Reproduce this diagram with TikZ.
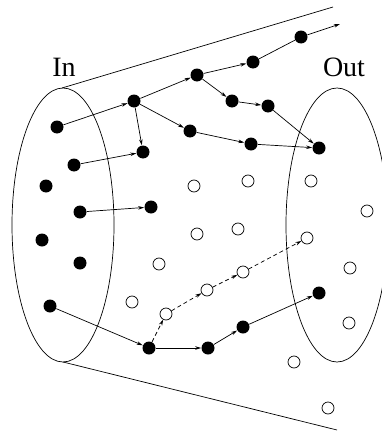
\documentclass[tikz,border=0pt]{standalone}
\usepackage{fontspec}
\setmainfont{Liberation Serif}
\usepackage{tikz}
\usetikzlibrary{arrows.meta, positioning}

\tikzset{
  dot/.style={circle, fill=black, inner sep=0pt, minimum size=13pt},
  hole/.style={circle, draw, line width=0.7pt, fill=white, inner sep=0pt, minimum size=12pt},
  flow/.style={line width=0.7pt, -{Stealth[length=6pt, width=3.5pt]}},
  trial/.style={flow, dash pattern=on 4pt off 3pt}
}

\begin{document}
\begin{tikzpicture}[x=1pt, y=-1pt, line width=0.7pt]
    \useasboundingbox (0,0) rectangle (381,431);
    % the two sets
    \draw (63,225) ellipse [x radius=51, y radius=137];
    \draw (337,225) ellipse [x radius=51, y radius=137];
    \coordinate (inTop) at (62,88);
    \coordinate (inBot) at (63,362);
    \coordinate (farTop) at (333,7);
    \coordinate (farBot) at (337,430);
    \draw (inTop) -- (farTop);
    \draw (inBot) -- (farBot);
    \node (In) at (64,67) {\fontsize{28}{30}\selectfont In};
    \node (Out) at (344,67) {\fontsize{28}{30}\selectfont Out};

    % points of In
    \node[dot] (i1) at (57,127) {};
    \node[dot] (i2) at (74,165) {};
    \node[dot] (i3) at (46,186) {};
    \node[dot] (i4) at (80,212) {};
    \node[dot] (i5) at (42,240) {};
    \node[dot] (i6) at (80,263) {};
    \node[dot] (i7) at (50,306) {};

    % visited points
    \node[dot] (b) at (134,101) {};
    \node[dot] (c) at (143,152) {};
    \node[dot] (d) at (151,207) {};
    \node[dot] (e) at (197,75) {};
    \node[dot] (f) at (190,131) {};
    \node[dot] (g) at (253,62) {};
    \node[dot] (h) at (301,37) {};
    \node[dot] (k) at (232,101) {};
    \node[dot] (j) at (268,106) {};
    \node[dot] (l) at (251,144) {};
    \node[dot] (m) at (319,148) {};
    \node[dot] (n) at (149,348) {};
    \node[dot] (p) at (208,348) {};
    \node[dot] (q) at (243,327) {};
    \node[dot] (r) at (319,293) {};
    \coordinate (away) at (340,24);

    % untouched points
    \node[hole] (o1) at (194,186) {};
    \node[hole] (o2) at (248,181) {};
    \node[hole] (o3) at (311,181) {};
    \node[hole] (o4) at (367,211) {};
    \node[hole] (o5) at (197,234) {};
    \node[hole] (o6) at (238,229) {};
    \node[hole] (o7) at (307,238) {};
    \node[hole] (o8) at (159,264) {};
    \node[hole] (o9) at (243,272) {};
    \node[hole] (o10) at (350,268) {};
    \node[hole] (o11) at (132,302) {};
    \node[hole] (o12) at (207,290) {};
    \node[hole] (o13) at (166,314) {};
    \node[hole] (o14) at (349,323) {};
    \node[hole] (o15) at (294,362) {};
    \node[hole] (o16) at (328,408) {};

    % paths
    \draw[flow] (i1) to (b);
    \draw[flow] (b) to (e);
    \draw[flow] (b) to (c);
    \draw[flow] (b) to (f);
    \draw[flow] (i2) to (c);
    \draw[flow] (i4) to (d);
    \draw[flow] (e) to (g);
    \draw (g) to (h);
    \draw[flow] (h) to (away);
    \draw[flow] (e) to (k);
    \draw[flow] (k) to (j);
    \draw[flow] (j) to (m);
    \draw[flow] (f) to (l);
    \draw[flow] (l) to (m);
    \draw[flow] (i7) to (n);
    \draw[flow] (n) to (p);
    \draw[flow] (p) to (q);
    \draw[flow] (q) to (r);
    \draw[trial] (n) to (o13);
    \draw[trial] (o13) to (o12);
    \draw[trial] (o12) to (o9);
    \draw[trial] (o9) to (o7);
\end{tikzpicture}
\end{document}
